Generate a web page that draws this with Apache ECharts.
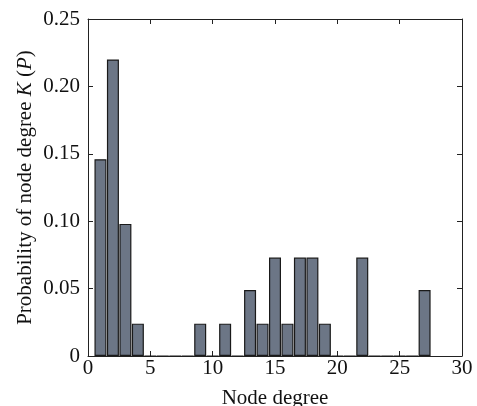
<!DOCTYPE html>
<html><head><meta charset="utf-8">
<script src="https://cdn.jsdelivr.net/npm/echarts@6/dist/echarts.min.js"></script>
<style>html,body{margin:0;padding:0;background:#fff}#c{width:477px;height:406px}</style>
</head><body><div id="c"></div>
<script>
const degrees = [1,2,3,4,5,6,7,8,9,10,11,12,13,14,15,16,17,18,19,20,21,22,23,24,25,26,27];
const probs = [0.146,0.220,0.098,0.024,0,0,0,0,0.024,0,0.024,0,0.049,0.024,0.073,0.024,0.073,0.073,0.024,0,0,0.073,0,0,0,0,0.049];
const xTicks = [0,5,10,15,20,25,30];
const yTicks = [0,0.05,0.10,0.15,0.20,0.25];

const chart = echarts.init(document.getElementById('c'), null, {renderer:'canvas'});
const font = 'Liberation Serif';
const axLine = {show:true, onZero:false, lineStyle:{color:'#222', width:1}};
const tick = {show:true, inside:true, length:5, lineStyle:{color:'#222'}};
chart.setOption({
  animation:false,
  grid:{left:88, right:15, top:19, bottom:50, containLabel:false, outerBoundsMode:'none'},
  xAxis:[{
    type:'value', min:0, max:30, interval:5,
    axisLine:axLine, axisTick:tick, splitLine:{show:false},
    axisLabel:{fontFamily:font, fontSize:21, color:'#111', margin:2,
      formatter:v=>xTicks.includes(v)?String(v):''},
    name:'Node degree', nameLocation:'middle', nameGap:32, nameMoveOverlap:false,
    nameTextStyle:{fontFamily:font, fontSize:21, color:'#111'}
  },{
    type:'value', position:'top', min:0, max:30, interval:5,
    axisLine:axLine, axisTick:tick, axisLabel:{show:false}, splitLine:{show:false}
  }],
  yAxis:[{
    type:'value', min:0, max:0.25, interval:0.05,
    axisLine:axLine, axisTick:tick, splitLine:{show:false},
    axisLabel:{fontFamily:font, fontSize:21, color:'#111', margin:8,
      formatter:v=>{const t=yTicks.find(q=>Math.abs(q-v)<1e-9);return t===undefined?'':(t===0?'0':t.toFixed(2));}},
    name:'{n|Probability of node degree }{i|K}{n| (}{i|P}{n|)}',
    nameLocation:'middle', nameGap:52, nameRotate:90, nameMoveOverlap:false,
    nameTextStyle:{rich:{
      n:{fontFamily:font, fontSize:21, color:'#111'},
      i:{fontFamily:font, fontSize:21, color:'#111', fontStyle:'italic'}
    }}
  },{
    type:'value', position:'right', min:0, max:0.25, interval:0.05,
    axisLine:axLine, axisTick:tick, axisLabel:{show:false}, splitLine:{show:false}
  }],
  series:[{
    type:'bar', barWidth:12,
    data:degrees.map((d,i)=>[d,probs[i]]),
    itemStyle:{color:'#6c7686', borderColor:'#1a1a1a', borderWidth:1.2}
  }]
});
</script></body></html>
